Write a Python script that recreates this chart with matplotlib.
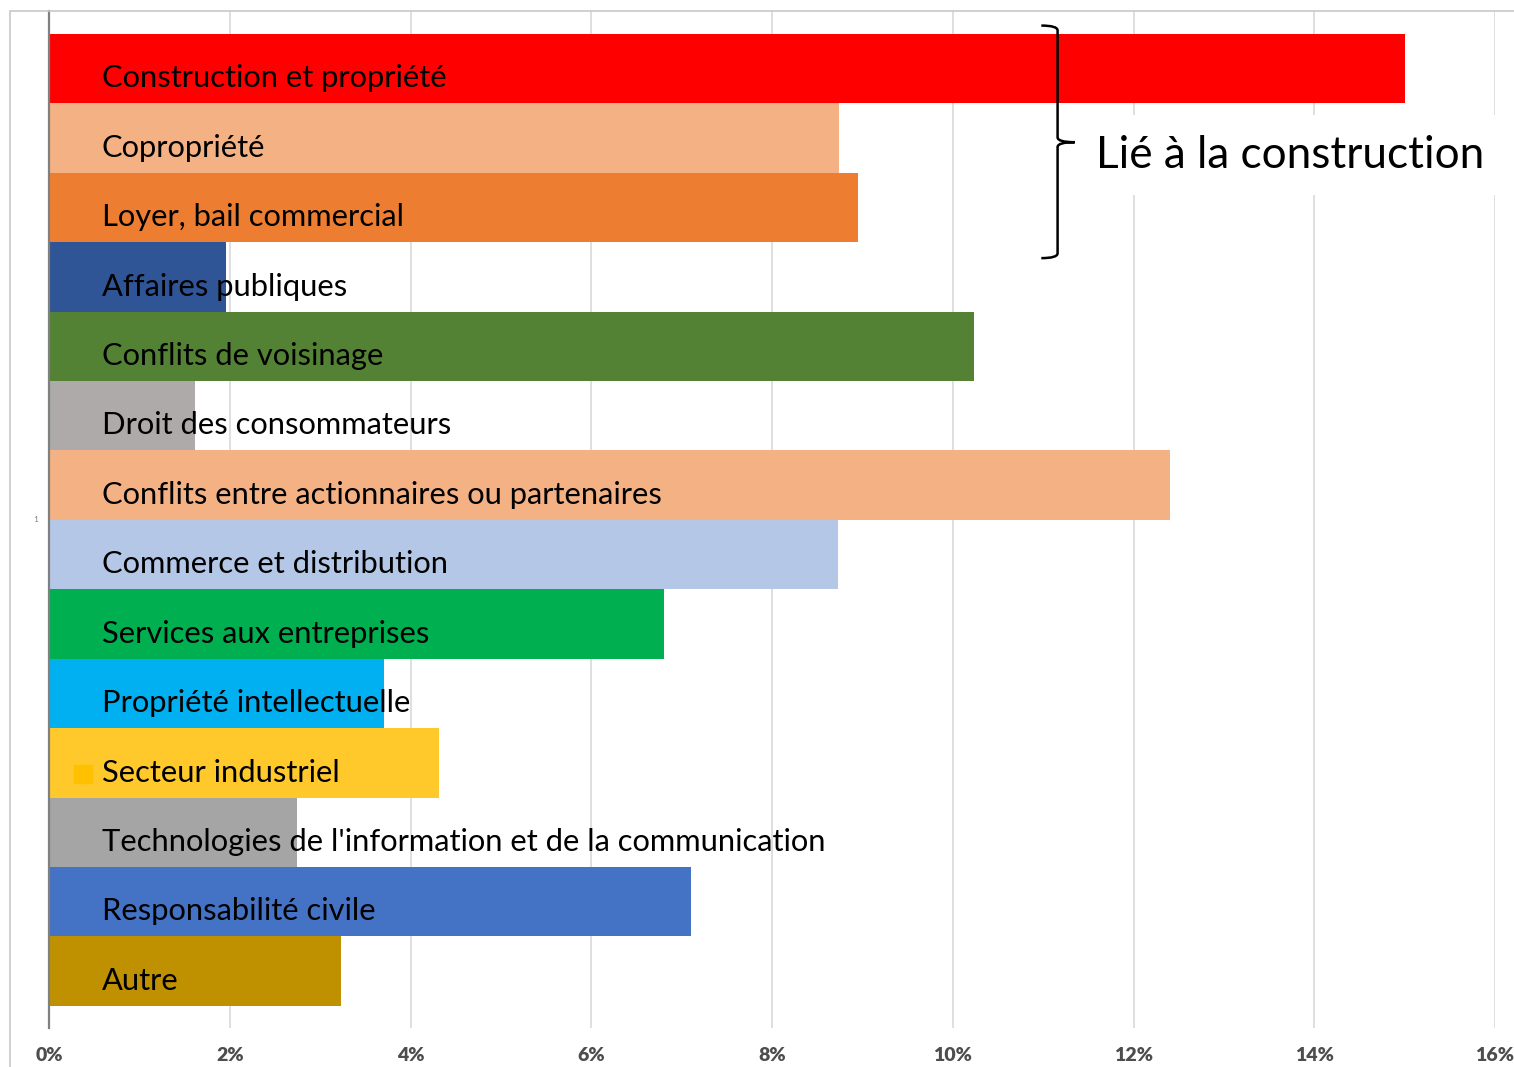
import matplotlib
matplotlib.use("Agg")
import matplotlib.pyplot as plt
from matplotlib.patches import Rectangle, PathPatch
from matplotlib.path import Path
from matplotlib.transforms import ScaledTranslation

plt.rcParams['font.family'] = ['Lato', 'DejaVu Sans']

categories = [
    "Construction et propriété",
    "Copropriété",
    "Loyer, bail commercial",
    "Affaires publiques",
    "Conflits de voisinage",
    "Droit des consommateurs",
    "Conflits entre actionnaires ou partenaires",
    "Commerce et distribution",
    "Services aux entreprises",
    "Propriété intellectuelle",
    "Secteur industriel",
    "Technologies de l'information et de la communication",
    "Responsabilité civile",
    "Autre",
]
values = [15.0, 8.74, 8.95, 1.96, 10.23, 1.62, 12.40, 8.73, 6.80, 3.71, 4.31, 2.74, 7.10, 3.23]
colors = [
    "#FF0000", "#F4B183", "#ED7D31", "#2F5597", "#548235", "#AEAAAA", "#F4B183",
    "#B4C7E7", "#00B050", "#00B0F0", "#FFC92B", "#A5A5A5", "#4472C4", "#BF9000",
]
xticks = [0, 2, 4, 6, 8, 10, 12, 14, 16]
group_label = "Lié à la construction"

W, H = 1514, 1067
fig = plt.figure(figsize=(W / 100, H / 100), dpi=100)
ax = fig.add_axes([49 / W, 1 - 1028 / H, 1446 / W, 1017 / H])

ypos = list(range(len(categories)))
ax.barh(ypos, values, height=1.0, color=colors, zorder=2)

ax.set_xlim(0, 16)
ax.set_ylim(len(categories) - 0.5 + 0.32, -0.5 - 0.33)
ax.set_xticks(xticks)
ax.set_xticklabels([f"{t}%" for t in xticks], fontweight='heavy', color='#4d4d4d', fontsize=14)
ax.tick_params(axis='x', length=0, pad=14)
ax.set_yticks([])
ax.grid(axis='x', color='#d9d9d9', linewidth=1.2, zorder=0)
for s in ['top', 'right', 'bottom']:
    ax.spines[s].set_visible(False)
ax.spines['left'].set_color('#808080')
ax.spines['left'].set_linewidth(1.6)
ax.spines['left'].set_zorder(3)

# category labels inside the bars
for i, name in enumerate(categories):
    ax.annotate(name, xy=(0, i), xycoords=('axes fraction', 'data'),
                xytext=(38, -7), textcoords='offset points',
                ha='left', va='center', fontsize=22.2, color='black', zorder=4)

# leftover legend square and axis category label
sq = ax.get_yaxis_transform() + ScaledTranslation(0.34, -0.11, fig.dpi_scale_trans)
ax.plot([0], [categories.index("Secteur industriel")], marker='s', markersize=13,
        color='#FFC000', transform=sq, clip_on=False, zorder=4)
ax.annotate("1", xy=(0, (len(categories) - 1) / 2), xycoords=('axes fraction', 'data'),
            xytext=(-8, 0), textcoords='offset points', ha='right', va='center',
            fontsize=6, color='#808080')

# brace around the construction group
x0, xs, xt = 10.98, 11.16, 11.35
yt, ym, yb = -0.62, 1.06, 2.73
r = 0.07
verts = [(x0, yt), (xs, yt), (xs, yt + r), (xs, ym - r), (xs, ym), (xt, ym),
         (xs, ym), (xs, ym + r), (xs, yb - r), (xs, yb), (x0, yb)]
codes = [Path.MOVETO, Path.CURVE3, Path.CURVE3, Path.LINETO, Path.CURVE3, Path.CURVE3,
         Path.CURVE3, Path.CURVE3, Path.LINETO, Path.CURVE3, Path.CURVE3]
ax.add_patch(PathPatch(Path(verts, codes), fill=False, lw=1.8, ec='black',
                       clip_on=False, zorder=5))
ax.text(11.59, 1.25, group_label, fontsize=31.8, ha='left', va='center', zorder=4,
        bbox=dict(facecolor='white', edgecolor='none', pad=14))

# outer chart frame
fig.add_artist(Rectangle((10 / W, -0.05), 1.2, 1 - 11 / H + 0.05, transform=fig.transFigure,
                         fill=False, ec='#c8c8c8', lw=1.2, clip_on=False))

fig.savefig("out.png", dpi=100)
